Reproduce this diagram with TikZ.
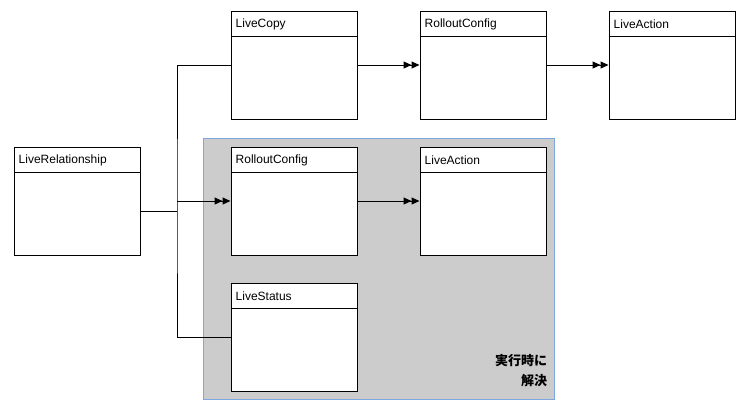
\documentclass[tikz,border=0pt]{standalone}
\usepackage{fontspec}
\setmainfont{Liberation Sans}
\newfontfamily\jpfont{Noto Sans CJK JP}
\usetikzlibrary{arrows.meta,positioning}
\definecolor{RTGray}{HTML}{CCCCCC}
\definecolor{RTBlue}{HTML}{7EA6E0}

\begin{document}
\begin{tikzpicture}[
  x=1pt,y=-1pt,
  node distance=27pt and 62pt,
  cls/.style={draw=black,fill=white,line width=1pt,minimum width=126pt,minimum height=108pt,inner sep=0pt,
    path picture={\draw[line width=1pt] ([yshift=-25pt]path picture bounding box.north west) -- ([yshift=-25pt]path picture bounding box.north east);}},
  hdr/.style={anchor=west,yshift=-13.5pt,xshift=2pt,inner sep=3pt,font=\fontsize{12}{14}\selectfont},
  link/.style={line width=1pt},
  arrow/.style={link,-{Triangle[length=8pt,width=7pt]Triangle[length=8pt,width=7pt]}}
]
\useasboundingbox (0,0) rectangle (747,410);
% runtime area
\node[draw=RTBlue,fill=RTGray,line width=0.8pt,minimum width=351pt,minimum height=261pt] (rt) at (378.5,268.5) {};
\node[anchor=south east,align=right,inner sep=2pt,font=\jpfont\bfseries\fontsize{13}{20}\selectfont] (note) at ([xshift=-5pt,yshift=10pt]rt.south east) {実行時に\\解決};

\node[cls,label={[hdr]north west:LiveRelationship}] (rel) at (77,201) {};
\node[cls,label={[hdr]north west:RolloutConfig}] (rc2) at (294,201) {};
\node[cls,label={[hdr]north west:LiveCopy},above=of rc2] (lc) {};
\node[cls,label={[hdr]north west:LiveStatus},below=of rc2] (ls) {};
\node[cls,label={[hdr]north west:RolloutConfig},right=of lc] (rc1) {};
\node[cls,label={[hdr]north west:LiveAction},right=of rc1] (la1) {};
\node[cls,label={[hdr]north west:LiveAction},right=of rc2] (la2) {};

\coordinate (fork) at (177,211);
\draw[link] ([yshift=-10pt]rel.east) -- (fork);
\draw[link] (lc.west) -| (fork) |- (ls.west);
\draw[arrow] (fork |- rc2.west) -- (rc2.west);
\draw[arrow] (lc) -- (rc1);
\draw[arrow] (rc1) -- (la1);
\draw[arrow] (rc2) -- (la2);
\end{tikzpicture}
\end{document}
